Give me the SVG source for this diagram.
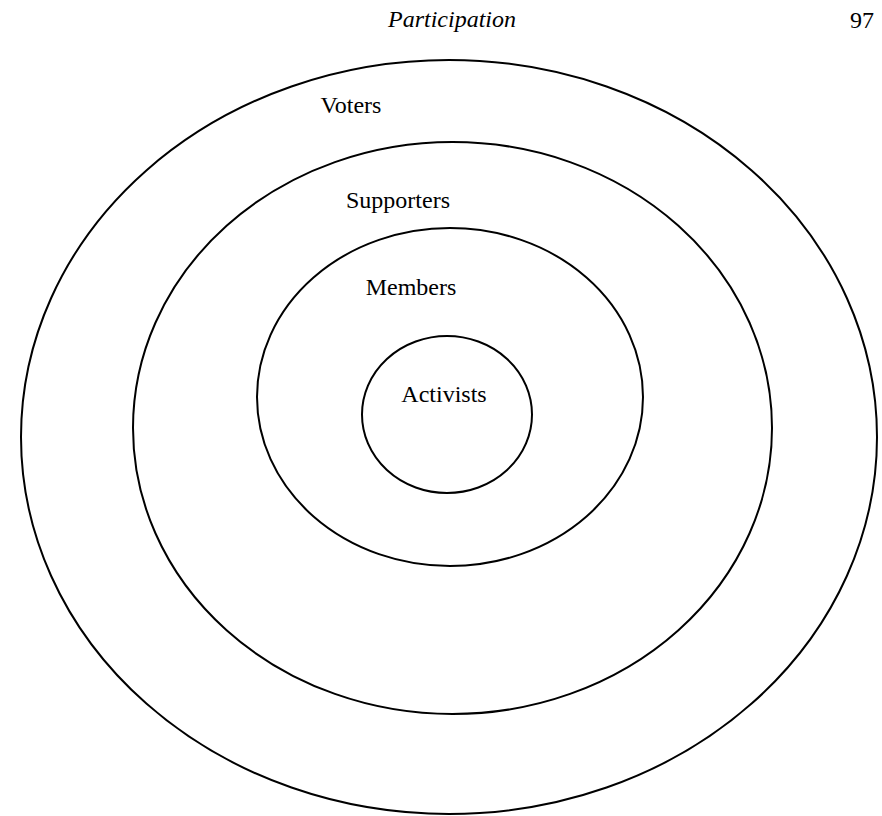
<svg xmlns="http://www.w3.org/2000/svg" width="882" height="816" viewBox="0 0 882 816">
<style>
.ring{fill:none;stroke:#000;stroke-width:2}
.lbl{font-family:"Liberation Serif","Times New Roman",serif;font-size:24px;fill:#000}
.hdr{font-family:"Liberation Serif","Times New Roman",serif;font-size:24px;fill:#000}
</style>
<rect width="882" height="816" fill="#fff"/>
<text class="hdr" x="452" y="27" text-anchor="middle" font-style="italic">Participation</text>
<text class="hdr" x="874" y="28" text-anchor="end">97</text>
<g id="voters">
<ellipse class="ring" cx="449" cy="437" rx="428" ry="377"/>
<text class="lbl" x="351" y="113" text-anchor="middle">Voters</text>
</g>
<g id="supporters">
<ellipse class="ring" cx="452.5" cy="428" rx="319.5" ry="286"/>
<text class="lbl" x="398" y="208" text-anchor="middle">Supporters</text>
</g>
<g id="members">
<ellipse class="ring" cx="450" cy="397" rx="193" ry="169"/>
<text class="lbl" x="411" y="295" text-anchor="middle">Members</text>
</g>
<g id="activists">
<ellipse class="ring" cx="447" cy="414.5" rx="85" ry="78.5"/>
<text class="lbl" x="444" y="402" text-anchor="middle">Activists</text>
</g>
<g id="connectors"></g>
</svg>
